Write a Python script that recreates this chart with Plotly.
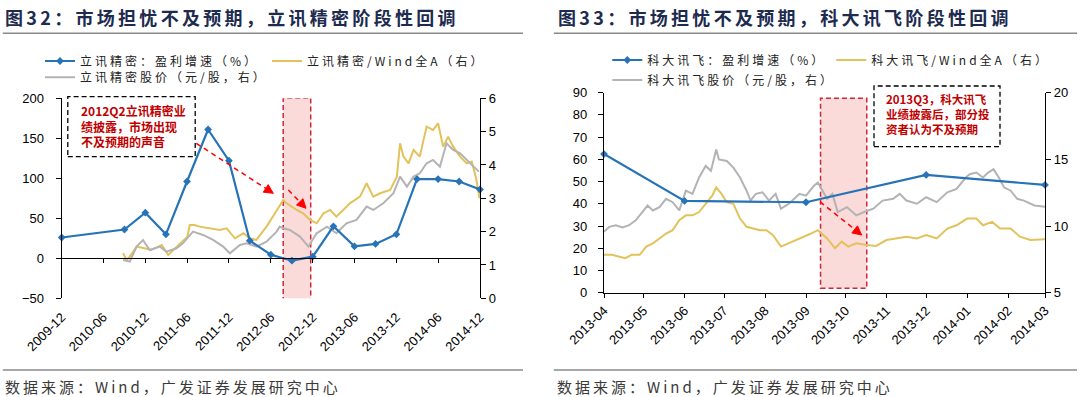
import math
import plotly.graph_objects as go

W, H = 1080, 397

# ---------------- data: left chart (立讯精密) ----------------
lx_growth_dates = ["2009-12-01", "2010-09-01", "2010-12-01", "2011-03-01", "2011-06-01",
                   "2011-09-01", "2011-12-01", "2012-03-01", "2012-06-01", "2012-09-01",
                   "2012-12-01", "2013-03-01", "2013-06-01", "2013-09-01", "2013-12-01",
                   "2014-03-01", "2014-06-01", "2014-09-01", "2014-12-01"]
lx_growth = [26, 36, 57, 30, 96, 161, 122, 22, 4.5, -3, 2, 40, 15, 18, 30, 99, 99, 96, 86]

lx_rel_dates = ["2010-08-26", "2010-09-10", "2010-09-24", "2010-10-24", "2010-11-27", "2010-12-27",
                "2011-02-11", "2011-03-11", "2011-04-25", "2011-06-03", "2011-06-13", "2011-07-03",
                "2011-07-26", "2011-09-09", "2011-10-22", "2011-11-21", "2011-12-27", "2012-02-02",
                "2012-03-01", "2012-03-30", "2012-05-13", "2012-06-19", "2012-07-25", "2012-08-09",
                "2012-09-22", "2012-10-20", "2012-11-19", "2012-12-18", "2013-01-17", "2013-02-15",
                "2013-03-14", "2013-04-13", "2013-05-12", "2013-06-25", "2013-07-24", "2013-08-22",
                "2013-09-21", "2013-11-04", "2013-12-03", "2013-12-17", "2014-01-01", "2014-01-23",
                "2014-02-14", "2014-03-13", "2014-04-12", "2014-05-10", "2014-06-01", "2014-06-23",
                "2014-07-15", "2014-08-06", "2014-09-05", "2014-10-04", "2014-10-26", "2014-11-14",
                "2014-11-29"]
lx_rel = [1.35, 1.15, 1.25, 1.55, 1.5, 1.45, 1.6, 1.3, 1.6, 1.85, 2.2, 2.2, 2.15, 2.1, 2.05,
          2.1, 1.8, 1.95, 1.8, 1.75, 2.15, 2.55, 2.95, 2.85, 2.65, 2.55, 2.35, 2.25, 2.55, 2.65,
          2.45, 2.65, 2.85, 3.05, 3.45, 3.05, 3.15, 3.25, 3.65, 4.65, 4.25, 4.05, 4.45, 4.25,
          5.15, 5.05, 5.25, 4.55, 4.85, 4.55, 4.25, 4.05, 4.1, 3.6, 3.0]

lx_price_dates = ["2010-08-26", "2010-09-24", "2010-10-24", "2010-11-21", "2010-12-20", "2011-02-03",
                  "2011-03-03", "2011-04-16", "2011-05-14", "2011-06-27", "2011-08-10", "2011-09-23",
                  "2011-11-06", "2011-12-05", "2012-01-18", "2012-02-17", "2012-03-30", "2012-05-13",
                  "2012-06-26", "2012-07-10", "2012-07-25", "2012-08-23", "2012-10-06", "2012-11-12",
                  "2012-12-18", "2013-02-01", "2013-03-14", "2013-04-27", "2013-06-10", "2013-07-24",
                  "2013-08-22", "2013-10-05", "2013-11-18", "2013-12-17", "2014-01-16", "2014-02-14",
                  "2014-03-13", "2014-04-12", "2014-05-10", "2014-06-09", "2014-07-08", "2014-08-06",
                  "2014-09-05", "2014-10-04", "2014-11-26"]
lx_price = [1.15, 1.1, 1.55, 1.75, 1.45, 1.55, 1.4, 1.5, 1.65, 2.0, 1.9, 1.75, 1.55, 1.35, 1.6,
            1.65, 1.55, 1.7, 2.0, 2.15, 2.1, 2.05, 1.85, 1.55, 1.95, 2.15, 1.95, 2.25, 2.35, 2.75,
            2.65, 2.85, 3.15, 3.65, 3.35, 3.65, 3.75, 4.05, 4.15, 3.95, 4.65, 4.45, 4.35, 4.15, 3.8]

left_tickvals = ["2009-12-01", "2010-06-01", "2010-12-01", "2011-06-01", "2011-12-01", "2012-06-01",
                 "2012-12-01", "2013-06-01", "2013-12-01", "2014-06-01", "2014-12-01"]
left_ticktext = ["2009-12", "2010-06", "2010-12", "2011-06", "2011-12", "2012-06",
                 "2012-12", "2013-06", "2013-12", "2014-06", "2014-12"]

# ---------------- data: right chart (科大讯飞) ----------------
kd_growth_dates = ["2013-04-01", "2013-06-01", "2013-09-01", "2013-12-01", "2014-03-01"]
kd_growth = [62.4, 41.3, 40.7, 53, 48.5]

kd_rel_dates = ["2013-04-01", "2013-04-07", "2013-04-12", "2013-04-17", "2013-04-22", "2013-04-28",
                "2013-05-03", "2013-05-08", "2013-05-13", "2013-05-18", "2013-05-23", "2013-05-28",
                "2013-06-02", "2013-06-07", "2013-06-12", "2013-06-17", "2013-06-22", "2013-06-25",
                "2013-06-29", "2013-07-03", "2013-07-08", "2013-07-13", "2013-07-18", "2013-07-23",
                "2013-07-28", "2013-08-02", "2013-08-07", "2013-08-13", "2013-08-19", "2013-08-27",
                "2013-09-04", "2013-09-10", "2013-09-17", "2013-09-23", "2013-09-28", "2013-10-03",
                "2013-10-09", "2013-10-17", "2013-10-24", "2013-11-01", "2013-11-09", "2013-11-16",
                "2013-11-24", "2013-12-01", "2013-12-09", "2013-12-17", "2013-12-24", "2014-01-01",
                "2014-01-08", "2014-01-13", "2014-01-20", "2014-01-26", "2014-02-03", "2014-02-10",
                "2014-02-18", "2014-03-01"]
kd_rel = [7.84, 7.84, 7.72, 7.59, 7.84, 7.84, 8.46, 8.70, 9.07, 9.44, 9.69, 10.43, 10.80, 10.80,
          11.05, 11.67, 12.28, 12.90, 12.41, 11.79, 11.67, 10.56, 9.94, 9.81, 9.69, 9.69, 9.32,
          8.46, 8.70, 9.07, 9.40, 9.69, 9.07, 8.33, 8.83, 8.46, 8.70, 8.58, 8.51, 8.95, 9.07,
          9.20, 9.07, 9.32, 9.07, 9.81, 10.06, 10.56, 10.56, 10.06, 10.31, 9.81, 9.81, 9.20,
          8.95, 9.0]

kd_price_dates = ["2013-04-01", "2013-04-05", "2013-04-10", "2013-04-15", "2013-04-20", "2013-04-25",
                  "2013-04-30", "2013-05-04", "2013-05-08", "2013-05-13", "2013-05-18", "2013-05-23",
                  "2013-05-28", "2013-06-02", "2013-06-07", "2013-06-12", "2013-06-17", "2013-06-21",
                  "2013-06-25", "2013-06-27", "2013-07-03", "2013-07-08", "2013-07-13", "2013-07-18",
                  "2013-07-21", "2013-07-25", "2013-07-30", "2013-08-04", "2013-08-09", "2013-08-13",
                  "2013-08-19", "2013-08-27", "2013-09-01", "2013-09-07", "2013-09-10", "2013-09-17",
                  "2013-09-21", "2013-09-25", "2013-10-02", "2013-10-09", "2013-10-15", "2013-10-22",
                  "2013-10-29", "2013-11-06", "2013-11-11", "2013-11-16", "2013-11-24", "2013-12-01",
                  "2013-12-09", "2013-12-17", "2013-12-24", "2013-12-31", "2014-01-03", "2014-01-08",
                  "2014-01-13", "2014-01-17", "2014-01-21", "2014-01-25", "2014-01-29", "2014-02-03",
                  "2014-02-08", "2014-02-13", "2014-02-21", "2014-03-01"]
kd_price = [9.57, 9.94, 10.06, 9.89, 10.06, 10.43, 11.05, 11.54, 11.17, 11.42, 12.04, 11.79, 11.17,
            12.65, 12.41, 13.64, 14.51, 14.14, 15.74, 15.0, 14.88, 14.38, 13.64, 12.65, 11.91, 12.41,
            12.53, 11.91, 12.41, 11.3, 11.67, 12.41, 12.28, 13.02, 13.27, 12.04, 12.41, 11.05, 11.42,
            10.80, 11.05, 11.3, 11.91, 12.04, 12.41, 11.91, 11.67, 12.16, 11.79, 12.53, 12.78, 13.64,
            13.89, 14.01, 13.64, 14.01, 14.26, 13.64, 12.90, 12.65, 12.04, 11.91, 11.54, 11.45]

right_tickvals = ["2013-04-01", "2013-05-01", "2013-06-01", "2013-07-01", "2013-08-01", "2013-09-01",
                  "2013-10-01", "2013-11-01", "2013-12-01", "2014-01-01", "2014-02-01", "2014-03-01"]
right_ticktext = ["2013-04", "2013-05", "2013-06", "2013-07", "2013-08", "2013-09",
                  "2013-10", "2013-11", "2013-12", "2014-01", "2014-02", "2014-03"]

# ---------------- text ----------------
title_left = "图32：市场担忧不及预期，立讯精密阶段性回调"
title_right = "图33：市场担忧不及预期，科大讯飞阶段性回调"
source_text = "数据来源：Wind，广发证券发展研究中心"
names_left = ["立讯精密：盈利增速（%）", "立讯精密/Wind全A（右）", "立讯精密股价（元/股，右）"]
names_right = ["科大讯飞：盈利增速（%）", "科大讯飞/Wind全A（右）", "科大讯飞股价（元/股，右）"]
note_left = "2012Q2立讯精密业<br>绩披露，市场出现<br>不及预期的声音"
note_right = "2013Q3，科大讯飞<br>业绩披露后，部分投<br>资者认为不及预期"

# ---------------- styling ----------------
BLUE = "#2673b8"
GOLD = "#e3c25a"
GREY = "#b3b3b3"
NAVY = "#1d2b4f"
NOTE_RED = "#c00000"
CJK = "Noto Sans CJK SC"
TICKFONT = dict(family="Liberation Sans, Arial", size=13, color="#000000")


def X(px):
    return px / W


def Y(py):
    return 1 - py / H


def spaced(txt, ls):
    return f'<span style="letter-spacing:{ls}px">{txt}</span>'


fig = go.Figure()

# left chart traces
fig.add_trace(go.Scatter(x=lx_growth_dates, y=lx_growth, name=spaced(names_left[0], 3),
                         mode="lines+markers", line=dict(color=BLUE, width=2.2),
                         marker=dict(symbol="diamond", size=6, color=BLUE),
                         xaxis="x", yaxis="y2", legend="legend", cliponaxis=False))
fig.add_trace(go.Scatter(x=lx_rel_dates, y=lx_rel, name=spaced(names_left[1], 3),
                         mode="lines", line=dict(color=GOLD, width=2),
                         xaxis="x", yaxis="y", legend="legend"))
fig.add_trace(go.Scatter(x=lx_price_dates, y=lx_price, name=spaced(names_left[2], 3),
                         mode="lines", line=dict(color=GREY, width=2),
                         xaxis="x", yaxis="y", legend="legend2"))

# right chart traces
fig.add_trace(go.Scatter(x=kd_growth_dates, y=kd_growth, name=spaced(names_right[0], 3),
                         mode="lines+markers", line=dict(color=BLUE, width=2.2),
                         marker=dict(symbol="diamond", size=6, color=BLUE),
                         xaxis="x2", yaxis="y4", legend="legend3", cliponaxis=False))
fig.add_trace(go.Scatter(x=kd_rel_dates, y=kd_rel, name=spaced(names_right[1], 3),
                         mode="lines", line=dict(color=GOLD, width=2),
                         xaxis="x2", yaxis="y3", legend="legend3"))
fig.add_trace(go.Scatter(x=kd_price_dates, y=kd_price, name=spaced(names_right[2], 3),
                         mode="lines", line=dict(color=GREY, width=2),
                         xaxis="x2", yaxis="y3", legend="legend4"))

axis_common = dict(showline=True, linecolor="#000000", linewidth=1.3, ticks="outside",
                   tickcolor="#000000", tickwidth=1.3, showgrid=False, zeroline=False,
                   tickfont=TICKFONT, automargin=False)

fig.update_layout(
    xaxis=dict(domain=[X(61.7), X(480)], anchor="free", position=Y(258.3), type="date",
               range=["2009-12-01", "2014-12-01"], tickmode="array", tickvals=left_tickvals,
               ticktext=left_ticktext, tickangle=-45, ticklen=4, ticklabelstandoff=41,
               **axis_common),
    yaxis=dict(domain=[Y(298.3), Y(98.3)], anchor="x", side="right", range=[0, 6],
               tick0=0, dtick=1, ticklen=5, **axis_common),
    yaxis2=dict(overlaying="y", anchor="x", side="left", range=[-50, 200], tick0=-50,
                dtick=50, ticklen=5, ticklabelstandoff=9, **axis_common),
    xaxis2=dict(domain=[X(604), X(1045)], anchor="y3", type="date",
                range=["2013-04-01", "2014-03-01"], tickmode="array", tickvals=right_tickvals,
                ticktext=right_ticktext, tickangle=-45, ticklen=4, **axis_common),
    yaxis3=dict(domain=[Y(292.7), Y(92.7)], anchor="x2", side="right", range=[5, 20],
                tick0=5, dtick=5, ticklen=5, **axis_common),
    yaxis4=dict(overlaying="y3", anchor="x2", side="left", range=[0, 90], tick0=0,
                dtick=10, ticklen=5, ticklabelstandoff=8, **axis_common),
)

legend_common = dict(orientation="h", xanchor="left", yanchor="top", bgcolor="rgba(0,0,0,0)",
                     borderwidth=0, font=dict(family=CJK, size=12, color="#222222"),
                     entrywidthmode="pixels")
fig.update_layout(
    legend=dict(x=X(40), y=Y(46.5), entrywidth=182, **legend_common),
    legend2=dict(x=X(40), y=Y(62.8), **legend_common),
    legend3=dict(x=X(607.3), y=Y(45.5), entrywidth=179, **legend_common),
    legend4=dict(x=X(607.3), y=Y(65.5), **legend_common),
)

shapes = []
annotations = []

# highlight rectangles (date ranges)
shapes.append(dict(type="rect", xref="x", yref="y2", x0="2012-07-25", x1="2012-11-22",
                   y0=-52, y1=200.5, fillcolor="#fbdada", layer="below",
                   line=dict(color="#cc2936", width=1.5, dash="5px,3px")))
shapes.append(dict(type="rect", xref="x2", yref="y4", x0="2013-09-12", x1="2013-10-17",
                   y0=2, y1=87.5, fillcolor="#fbdada", layer="below",
                   line=dict(color="#cc2936", width=1.5, dash="5px,3px")))

# note boxes
for (bx0, by0, bx1, by1) in [(67.8, 96.7, 195.2, 156.7), (874, 86, 1000, 146.7)]:
    shapes.append(dict(type="rect", xref="paper", yref="paper", x0=X(bx0), x1=X(bx1),
                       y0=Y(by1), y1=Y(by0), fillcolor="rgba(0,0,0,0)",
                       line=dict(color="#000000", width=1.3, dash="5px,3px")))


def arrow(x0, y0, x1, y1, color="#ff0000", head=9, half=4.5):
    dx, dy = x1 - x0, y1 - y0
    L = math.hypot(dx, dy)
    ux, uy = dx / L, dy / L
    bx, by = x1 - head * ux, y1 - head * uy
    nx, ny = -uy, ux
    shapes.append(dict(type="line", xref="paper", yref="paper", x0=X(x0), y0=Y(y0),
                       x1=X(bx), y1=Y(by), line=dict(color=color, width=1.5, dash="5px,4px")))
    path = (f"M{X(x1)},{Y(y1)} L{X(bx + half * nx)},{Y(by + half * ny)} "
            f"L{X(bx - half * nx)},{Y(by - half * ny)} Z")
    shapes.append(dict(type="path", xref="paper", yref="paper", path=path,
                       fillcolor=color, line=dict(color=color, width=1)))


arrow(196.3, 143.3, 273.3, 193.3)
arrow(288.3, 190, 306, 208.3)
arrow(820, 201.7, 861.7, 235)

# title underlines and source lines (thin filled bars)
for (lx0, lx1) in [(2.8, 523), (553.8, 1077)]:
    for ly in (33.3, 370):
        shapes.append(dict(type="rect", xref="paper", yref="paper", x0=X(lx0), x1=X(lx1),
                           y0=Y(ly + 0.8), y1=Y(ly - 0.8), fillcolor="#8a8a8a",
                           line=dict(width=0), layer="above"))

# titles
for (tx, txt) in [(2.8, title_left), (555.5, title_right)]:
    annotations.append(dict(xref="paper", yref="paper", x=X(tx), y=Y(16.7), xanchor="left",
                            yanchor="middle", showarrow=False,
                            text=spaced(f"<b>{txt}</b>", 3.3),
                            font=dict(family=CJK, size=18, color=NAVY)))
# sources
for tx in [3, 555]:
    annotations.append(dict(xref="paper", yref="paper", x=X(tx), y=Y(386.7), xanchor="left",
                            yanchor="middle", showarrow=False, text=spaced(source_text, 3),
                            font=dict(family=CJK, size=15, color="#3a3a3a")))
# notes
annotations.append(dict(xref="paper", yref="paper", x=X(79.2), y=Y(126), xanchor="left",
                        yanchor="middle", align="left", showarrow=False, text=f"<b>{note_left}</b>",
                        font=dict(family=CJK, size=12, color=NOTE_RED)))
annotations.append(dict(xref="paper", yref="paper", x=X(884.4), y=Y(114.3), xanchor="left",
                        yanchor="middle", align="left", showarrow=False, text=f"<b>{note_right}</b>",
                        font=dict(family=CJK, size=11.5, color=NOTE_RED)))

fig.update_layout(
    width=W, height=H, margin=dict(l=0, r=0, t=0, b=0),
    paper_bgcolor="#ffffff", plot_bgcolor="rgba(0,0,0,0)",
    template="none", font=dict(family=CJK, color="#222222"),
    shapes=shapes, annotations=annotations, hovermode=False,
)

fig.write_html("out.html", config={"displayModeBar": False},
               post_script="document.body.style.margin='0px';document.body.style.padding='0px';")
